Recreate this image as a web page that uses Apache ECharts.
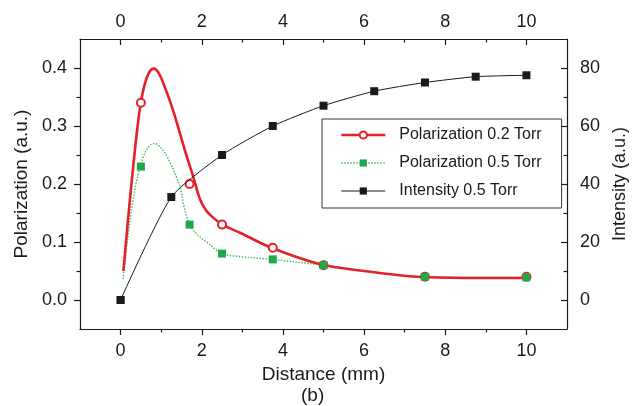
<!DOCTYPE html>
<html>
<head>
<meta charset="utf-8">
<script src="https://cdn.jsdelivr.net/npm/echarts@6/dist/echarts.min.js"></script>
<style>
  html, body { margin: 0; padding: 0; background: #fff; }
  #chart { width: 637px; height: 406px; }
</style>
</head>
<body>
<div id="chart"></div>
<script>
// measured points (markers)
const pol02X = [0.5, 1.7, 2.5, 3.75, 5, 7.5, 10]
const pol02Y = [0.34, 0.2, 0.13, 0.09, 0.06, 0.04, 0.04]
const pol05X = [0, 0.5, 1.7, 2.5, 3.75, 5, 7.5, 10]
const pol05Y = [0, 0.23, 0.13, 0.08, 0.07, 0.06, 0.04, 0.039]
const intX = [0, 1.25, 2.5, 3.75, 5, 6.25, 7.5, 8.75, 10]
const intY = [0, 35.5, 50, 60, 67, 72, 75, 77, 77.5]

// fitted curves
const fit02X = [0.07, 0.23, 0.43, 0.56, 0.7, 0.82, 0.95, 1.1, 1.28, 1.46, 1.62, 1.78, 1.95, 2.1, 2.28, 2.51, 2.94, 3.72, 4.9, 6.0, 7.3, 8.5, 9.9]
const fit02Y = [0.05, 0.173, 0.306, 0.362, 0.392, 0.399, 0.39, 0.365, 0.33, 0.288, 0.25, 0.215, 0.175, 0.155, 0.142, 0.13, 0.116, 0.09, 0.062, 0.05, 0.04, 0.038, 0.038]
const fit05X = [0.06, 0.2, 0.31, 0.39, 0.56, 0.7, 0.82, 1.0, 1.2, 1.46, 1.55, 1.7, 1.9, 2.12, 2.5, 2.94, 3.72, 5, 6, 7.5, 10]
const fit05Y = [0.036, 0.12, 0.173, 0.204, 0.247, 0.265, 0.27, 0.262, 0.24, 0.196, 0.165, 0.13, 0.112, 0.1, 0.08, 0.075, 0.07, 0.06, 0.05, 0.04, 0.039]

// axis ticks
const xMajor = [0, 2, 4, 6, 8, 10]
const xMinor = [1, 3, 5, 7, 9]
const yLeftMajor = [0, 0.1, 0.2, 0.3, 0.4]
const yLeftMinor = [0.05, 0.15, 0.25, 0.35]
const yRightMajor = [0, 20, 40, 60, 80]
const yRightMinor = [10, 30, 50, 70]

const RED = '#e3222b'
const GREEN = '#1fa94b'
const GREEN_LINE = '#4cbc68'
const BLACK = '#1a1a1a'
const FONT = '"Liberation Sans", Arial, Helvetica, sans-serif'

const pairs = (xs, ys) => xs.map((x, i) => [x, ys[i]])

const chart = echarts.init(document.getElementById('chart'))

const axisLine = { show: true, onZero: false, lineStyle: { color: BLACK, width: 1.2 } }
const labelStyle = { color: BLACK, fontSize: 18, fontFamily: FONT }

function xAx(pos, ticks, minor) {
  return {
    type: 'value',
    position: pos,
    min: -1,
    max: 11,
    axisLine: minor ? { show: false, onZero: false } : axisLine,
    axisTick: {
      show: true,
      inside: pos === 'top',
      length: minor ? 3.5 : 6,
      customValues: ticks,
      lineStyle: { color: BLACK, width: 1.2 },
    },
    axisLabel: minor
      ? { show: false }
      : Object.assign({ customValues: ticks, margin: pos === 'top' ? 8 : 13 }, labelStyle),
    splitLine: { show: false },
  }
}

function yAx(pos, min, max, ticks, minor, fmt) {
  return {
    type: 'value',
    position: pos,
    min: min,
    max: max,
    axisLine: minor ? { show: false, onZero: false } : axisLine,
    axisTick: {
      show: true,
      inside: pos === 'right',
      length: minor ? 3.5 : 6,
      customValues: ticks,
      lineStyle: { color: BLACK, width: 1.2 },
    },
    axisLabel: minor
      ? { show: false }
      : Object.assign({ customValues: ticks, margin: 13, formatter: fmt }, labelStyle),
    splitLine: { show: false },
  }
}

const xAxes = [xAx('bottom', xMajor, false), xAx('top', xMajor, false), xAx('bottom', xMinor, true), xAx('top', xMinor, true)]
xAxes[0].name = 'Distance (mm)'
xAxes[0].nameLocation = 'middle'
xAxes[0].nameGap = 34
xAxes[0].nameTextStyle = { color: BLACK, fontSize: 19, fontFamily: FONT }

const yAxes = [
  yAx('left', -0.05, 0.45, yLeftMajor, false, (v) => v.toFixed(1)),
  yAx('right', -10, 90, yRightMajor, false, (v) => String(v)),
  yAx('left', -0.05, 0.45, yLeftMinor, true),
  yAx('right', -10, 90, yRightMinor, true),
]
yAxes[0].name = 'Polarization (a.u.)'
yAxes[0].nameLocation = 'middle'
yAxes[0].nameRotate = 90
yAxes[0].nameGap = 42
yAxes[0].nameTextStyle = { color: BLACK, fontSize: 19, fontFamily: FONT }
yAxes[1].name = 'Intensity (a.u.)'
yAxes[1].nameLocation = 'middle'
yAxes[1].nameRotate = 90
yAxes[1].nameGap = 37
yAxes[1].nameTextStyle = { color: BLACK, fontSize: 18, fontFamily: FONT }

const option = {
  animation: false,
  backgroundColor: '#fff',
  title: {
    text: '(b)',
    left: 301,
    top: 386,
    padding: 0,
    textStyle: { color: BLACK, fontSize: 19, fontWeight: 'normal', fontFamily: FONT },
  },
  grid: { left: 80, right: 70, top: 39, bottom: 77 },
  legend: {
    orient: 'vertical',
    left: 322,
    top: 119,
    padding: [7, 20, 8, 18],
    itemGap: 10,
    itemWidth: 44,
    itemHeight: 9,
    borderColor: '#333',
    borderWidth: 1,
    textStyle: { color: BLACK, fontSize: 16, lineHeight: 18, fontFamily: FONT, padding: [0, 0, 0, 9] },
    data: [
      { name: 'Polarization 0.2 Torr', lineStyle: { color: RED, width: 2.6, opacity: 1, type: 'solid' } },
      { name: 'Polarization 0.5 Torr', lineStyle: { color: GREEN_LINE, width: 1.5, opacity: 1, type: 'dotted' } },
      { name: 'Intensity 0.5 Torr', lineStyle: { color: BLACK, width: 1, opacity: 1, type: 'solid' } },
    ],
  },
  xAxis: xAxes,
  yAxis: yAxes,
  series: [
    {
      name: 'fit 0.5',
      type: 'line',
      xAxisIndex: 0,
      yAxisIndex: 0,
      data: pairs(fit05X, fit05Y),
      smooth: 0.35,
      symbol: 'none',
      lineStyle: { color: GREEN_LINE, width: 1.5, type: 'dotted' },
      z: 2,
    },
    {
      name: 'fit 0.2',
      type: 'line',
      xAxisIndex: 0,
      yAxisIndex: 0,
      data: pairs(fit02X, fit02Y),
      smooth: 0.35,
      symbol: 'none',
      lineStyle: { color: RED, width: 2.6 },
      z: 3,
    },
    {
      name: 'Polarization 0.2 Torr',
      type: 'line',
      xAxisIndex: 0,
      yAxisIndex: 0,
      data: pairs(pol02X, pol02Y),
      symbol: 'emptyCircle',
      symbolSize: 8,
      itemStyle: { color: RED, borderColor: RED, borderWidth: 1.2 },
      lineStyle: { opacity: 0, color: RED },
      z: 4,
    },
    {
      name: 'Polarization 0.5 Torr',
      type: 'line',
      xAxisIndex: 0,
      yAxisIndex: 0,
      data: pairs(pol05X, pol05Y),
      symbol: 'rect',
      symbolSize: 8,
      itemStyle: { color: GREEN },
      lineStyle: { opacity: 0, color: GREEN_LINE },
      z: 5,
    },
    {
      name: 'Intensity 0.5 Torr',
      type: 'line',
      xAxisIndex: 0,
      yAxisIndex: 1,
      data: pairs(intX, intY),
      smooth: 0.2,
      symbol: 'rect',
      symbolSize: 8,
      itemStyle: { color: BLACK },
      lineStyle: { color: BLACK, width: 1 },
      z: 6,
    },
  ],
}

chart.setOption(option)
</script>
</body>
</html>
